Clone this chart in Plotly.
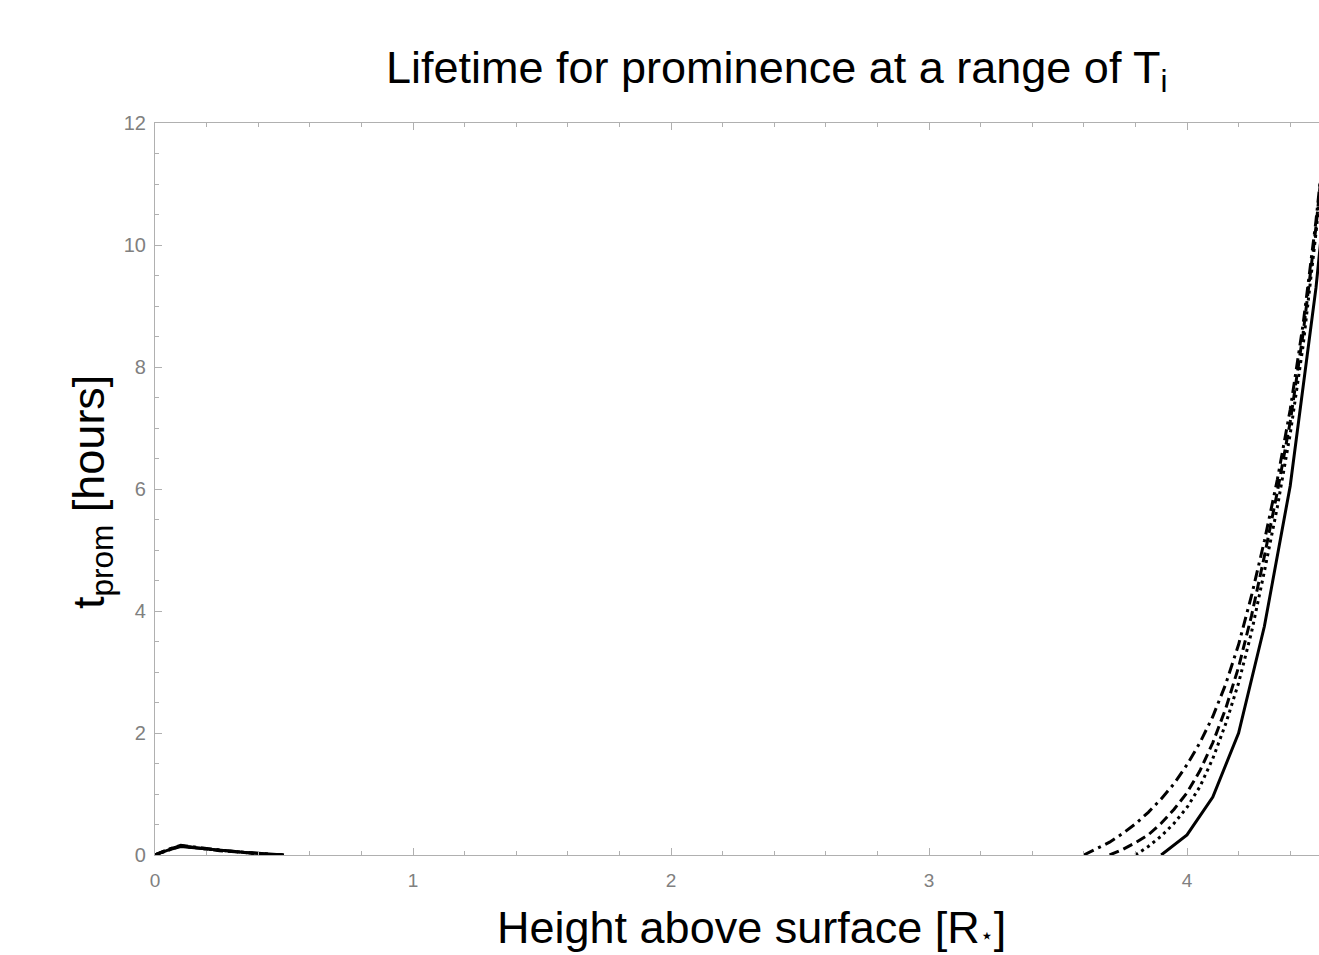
import plotly.graph_objects as go

# Low-height bump (all temperatures)
bump_x = [0, 0.05, 0.1, 0.15, 0.2, 0.25, 0.3, 0.35, 0.4, 0.45, 0.5]
bump_solid = [0, 0.08, 0.14, 0.12, 0.09, 0.07, 0.05, 0.04, 0.03, 0.01, 0]
bump_dot = [0, 0.08, 0.15, 0.12, 0.10, 0.07, 0.05, 0.04, 0.02, 0.01, 0]
bump_dash = [0, 0.09, 0.15, 0.13, 0.10, 0.07, 0.06, 0.04, 0.02, 0.01, 0]
bump_dashdot = [0, 0.09, 0.16, 0.13, 0.10, 0.08, 0.06, 0.04, 0.03, 0.01, 0]

# Rising branch for each temperature
rise_x_dashdot = [3.60, 3.65, 3.70, 3.75, 3.80, 3.85, 3.90, 3.95, 4.00, 4.05, 4.10, 4.15, 4.20, 4.25, 4.30, 4.35, 4.40, 4.45, 4.50, 4.55]
rise_y_dashdot = [0, 0.10, 0.21, 0.35, 0.51, 0.70, 0.92, 1.17, 1.48, 1.84, 2.27, 2.80, 3.45, 4.25, 5.15, 6.15, 7.30, 8.70, 10.4, 12.4]

rise_x_dash = [3.70, 3.75, 3.80, 3.85, 3.90, 3.95, 4.00, 4.05, 4.10, 4.15, 4.20, 4.25, 4.30, 4.35, 4.40, 4.45, 4.50, 4.55]
rise_y_dash = [0, 0.09, 0.20, 0.33, 0.52, 0.75, 1.02, 1.38, 1.84, 2.40, 3.08, 3.92, 4.90, 5.95, 7.10, 8.55, 10.3, 12.4]

rise_x_dot = [3.80, 3.85, 3.90, 3.95, 4.00, 4.05, 4.10, 4.15, 4.20, 4.25, 4.30, 4.35, 4.40, 4.45, 4.50, 4.55]
rise_y_dot = [0, 0.14, 0.31, 0.52, 0.78, 1.12, 1.58, 2.15, 2.82, 3.65, 4.65, 5.70, 6.90, 8.35, 10.2, 12.3]

rise_x_solid = [3.90, 4.00, 4.10, 4.20, 4.30, 4.40, 4.50, 4.60]
rise_y_solid = [0, 0.33, 0.95, 2.00, 3.75, 6.05, 9.30, 13.5]

x_ticks = [0, 1, 2, 3, 4]
y_ticks = [0, 2, 4, 6, 8, 10, 12]

series = [
    ("solid", bump_solid, rise_x_solid, rise_y_solid),
    ("3px,4px", bump_dot, rise_x_dot, rise_y_dot),
    ("10px,5px", bump_dash, rise_x_dash, rise_y_dash),
    ("11px,5px,3px,5px", bump_dashdot, rise_x_dashdot, rise_y_dashdot),
]

fig = go.Figure()
for dash, by, rx, ry in series:
    fig.add_trace(go.Scatter(
        x=bump_x + [None] + rx,
        y=by + [None] + ry,
        mode="lines",
        line=dict(color="black", width=3, dash=dash),
        connectgaps=False,
        showlegend=False,
        hoverinfo="skip",
    ))

FONT = "Liberation Sans, Arial, Helvetica, sans-serif"
W, H = 1319, 955
L, R, T, B = 155, 0, 123, 100
pw = W - L - R

fig.update_layout(
    width=W, height=H,
    margin=dict(l=L, r=R, t=T, b=B, pad=0),
    paper_bgcolor="white", plot_bgcolor="white",
    font=dict(family=FONT, color="black"),
    showlegend=False,
)

fig.update_xaxes(
    range=[0, pw / 258.0],
    showgrid=False, zeroline=False,
    showline=True, linecolor="#b0b0b0", linewidth=1.2,
    mirror="ticks",
    ticks="inside", ticklen=7, tickwidth=1.2, tickcolor="#b0b0b0",
    tickvals=x_ticks, ticktext=[str(v) for v in x_ticks],
    tickfont=dict(size=19, color="#808080", family=FONT),
    ticklabelstandoff=8,
    minor=dict(dtick=0.2, ticks="inside", ticklen=4, tickcolor="#b0b0b0", tickwidth=1, showgrid=False),
)
fig.update_yaxes(
    range=[0, 12],
    showgrid=False, zeroline=False,
    showline=True, linecolor="#b0b0b0", linewidth=1.2,
    mirror=False,
    ticks="inside", ticklen=7, tickwidth=1.2, tickcolor="#b0b0b0",
    tickvals=y_ticks, ticktext=[str(v) for v in y_ticks],
    tickfont=dict(size=20, color="#808080", family=FONT),
    ticklabelstandoff=4,
    minor=dict(dtick=0.5, ticks="inside", ticklen=4, tickcolor="#b0b0b0", tickwidth=1, showgrid=False),
)

ph = H - T - B
def py(px):
    return (H - B - px) / ph
def pxp(px):
    return (px - L) / pw

fig.add_annotation(
    text="Lifetime for prominence at a range of T<sub>i</sub>",
    xref="paper", yref="paper", x=pxp(777), y=py(70),
    xanchor="center", yanchor="middle", showarrow=False,
    font=dict(size=45, family=FONT, color="black"),
)
fig.add_annotation(
    text="Height above surface [R<span style='font-size:22px'>⋆</span>]",
    xref="paper", yref="paper", x=pxp(751), y=py(927),
    xanchor="center", yanchor="middle", showarrow=False,
    font=dict(size=45, family=FONT, color="black"),
)
fig.add_annotation(
    text="t<sub>prom</sub> [hours]",
    xref="paper", yref="paper", x=pxp(92), y=py(492),
    xanchor="center", yanchor="middle", showarrow=False, textangle=-90,
    font=dict(size=45, family=FONT, color="black"),
)

fig.write_html("out.html")
